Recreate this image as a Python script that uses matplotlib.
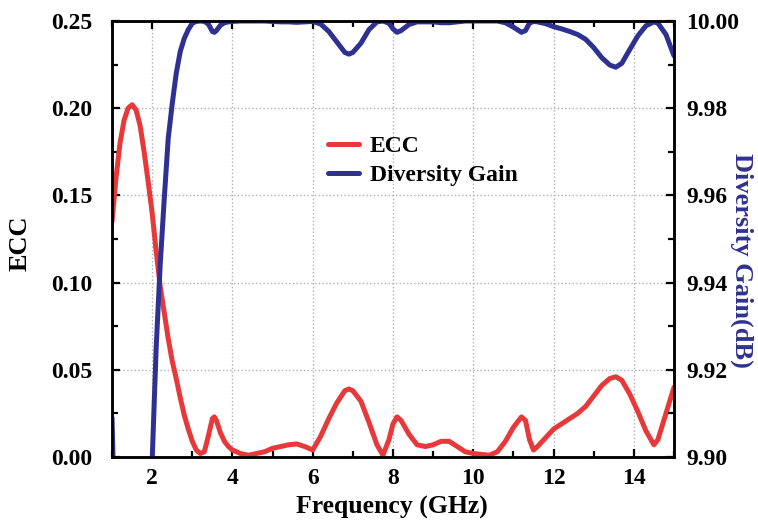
import matplotlib
matplotlib.use("Agg")
import matplotlib.pyplot as plt
from matplotlib.ticker import MultipleLocator

freq = [1.0, 1.1, 1.2, 1.3, 1.4, 1.5, 1.6, 1.7, 1.8, 1.9, 2.0, 2.1, 2.2, 2.3, 2.4, 2.5,
        2.6, 2.7, 2.8, 2.9, 3.0, 3.1, 3.2, 3.3, 3.4, 3.5, 3.55, 3.6, 3.7, 3.8, 3.9, 4.0,
        4.2, 4.4, 4.6, 4.8, 5.0, 5.2, 5.4, 5.6, 5.8, 6.0, 6.2, 6.4, 6.6, 6.8, 6.9, 7.0,
        7.2, 7.4, 7.6, 7.75, 7.9, 8.0, 8.1, 8.2, 8.4, 8.6, 8.8, 9.0, 9.2, 9.4, 9.6, 9.8,
        10.0, 10.2, 10.4, 10.6, 10.8, 11.0, 11.2, 11.3, 11.4, 11.5, 11.6, 11.8, 12.0,
        12.2, 12.4, 12.6, 12.8, 13.0, 13.2, 13.4, 13.55, 13.7, 13.9, 14.1, 14.3, 14.5,
        14.6, 14.8, 15.0]

ecc = [0.135, 0.160, 0.180, 0.193, 0.200, 0.202, 0.199, 0.190, 0.175, 0.158, 0.140,
       0.118, 0.098, 0.083, 0.068, 0.055, 0.045, 0.034, 0.024, 0.016, 0.009, 0.004,
       0.002, 0.003, 0.012, 0.022, 0.023, 0.021, 0.014, 0.009, 0.006, 0.004,
       0.002, 0.001, 0.002, 0.003, 0.005, 0.006, 0.007, 0.0075, 0.006, 0.004,
       0.012, 0.022, 0.031, 0.038, 0.039, 0.038, 0.032, 0.020, 0.007, 0.001,
       0.010, 0.019, 0.023, 0.021, 0.013, 0.007, 0.006, 0.007, 0.009, 0.009,
       0.006, 0.003, 0.002, 0.0015, 0.001, 0.003, 0.009, 0.017, 0.023, 0.021,
       0.010, 0.004, 0.006, 0.011, 0.016, 0.019, 0.022, 0.025, 0.029, 0.035,
       0.041, 0.045, 0.046, 0.044, 0.036, 0.026, 0.015, 0.007, 0.010, 0.025, 0.040]

gain = [9.909, 9.872, 9.838, 9.813, 9.800, 9.796, 9.800, 9.818, 9.845, 9.874, 9.899,
        9.925, 9.944, 9.959, 9.973, 9.981, 9.988, 9.993, 9.996, 9.998, 9.9995, 9.9999,
        10.0, 9.9999, 9.9993, 9.9976, 9.9974, 9.9978, 9.9990, 9.9996, 9.9998, 9.9999,
        10.0, 10.0, 10.0, 10.0, 9.9999, 9.9998, 9.9998, 9.9997, 9.9998, 9.9999,
        9.9993, 9.9976, 9.9952, 9.9928, 9.9924, 9.9928, 9.9949, 9.9980, 9.9998, 10.0,
        9.9995, 9.9982, 9.9974, 9.9978, 9.9992, 9.9998, 9.9998, 9.9998, 9.9996, 9.9996,
        9.9998, 10.0, 10.0, 10.0, 10.0, 10.0, 9.9996, 9.9986, 9.9974, 9.9978,
        9.9995, 9.9999, 9.9998, 9.9994, 9.9987, 9.9982, 9.9976, 9.9969, 9.9958, 9.9939,
        9.9916, 9.9899, 9.9894, 9.9903, 9.9935, 9.9966, 9.9989, 9.9998, 9.9995, 9.9969,
        9.9920]

x_ticks = [2, 4, 6, 8, 10, 12, 14]
ecc_ticks = [0.00, 0.05, 0.10, 0.15, 0.20, 0.25]
gain_ticks = [9.90, 9.92, 9.94, 9.96, 9.98, 10.00]

RED = "#e8393a"
BLUE = "#2e3191"

plt.rcParams["font.family"] = ["Liberation Serif", "DejaVu Serif"]
plt.rcParams["font.weight"] = "bold"

fig = plt.figure(figsize=(7.58, 5.21), dpi=100)
ax = fig.add_axes([112 / 758, 1 - 457 / 521, (674 - 112) / 758, (457 - 21) / 521])
ax2 = ax.twinx()

l1, = ax.plot(freq, ecc, color=RED, lw=3.6, label="ECC", solid_capstyle="round")
l2, = ax2.plot(freq, gain, color=BLUE, lw=3.6, label="Diversity Gain", solid_capstyle="round")

ax.set_xlim(1, 15)
ax.set_ylim(0, 0.25)
ax2.set_ylim(9.90, 10.00)
ax.set_xticks(x_ticks)
ax.set_yticks(ecc_ticks)
ax.set_yticklabels([f"{v:.2f}" for v in ecc_ticks])
ax2.set_yticks(gain_ticks)
ax2.set_yticklabels([f"{v:.2f}" for v in gain_ticks])
ax.xaxis.set_minor_locator(MultipleLocator(1))
ax.yaxis.set_minor_locator(MultipleLocator(0.025))
ax2.yaxis.set_minor_locator(MultipleLocator(0.01))

ax.grid(True, which="major", color="#b0b0c0", linestyle=":", linewidth=1.0)
ax.tick_params(axis="x", which="both", direction="in", top=True, bottom=True,
               labelsize=17, width=1.6, pad=8)
ax.tick_params(axis="y", which="both", direction="in", left=True, right=False,
               labelsize=17, width=1.6, pad=14)
ax.tick_params(which="major", length=6)
ax.tick_params(which="minor", length=4)
ax2.tick_params(axis="y", which="both", direction="in", labelsize=17, width=1.6, pad=9)
ax2.tick_params(which="major", length=6)
ax2.tick_params(which="minor", length=4)

for a in (ax, ax2):
    for s in a.spines.values():
        s.set_linewidth(1.8)

ax.set_xlabel("Frequency (GHz)", fontsize=18.5, fontweight="bold", va="center")
ax.xaxis.set_label_coords(0.498, -0.115)
ax.set_ylabel("ECC", fontsize=19, fontweight="bold", va="center")
ax.yaxis.set_label_coords(-0.164, 0.49)
ax2.set_ylabel("Diversity Gain(dB)", fontsize=19, fontweight="bold", color=BLUE,
               rotation=-90, va="center")
ax2.yaxis.set_label_coords(1.12, 0.45)

leg = ax.legend(handles=[l1, l2], loc="center left", bbox_to_anchor=(0.347, 0.679),
                frameon=False, handlelength=1.3, handletextpad=0.47,
                labelspacing=0.3, prop={"weight": "bold", "size": 17})

fig.savefig("out.png", dpi=100)
